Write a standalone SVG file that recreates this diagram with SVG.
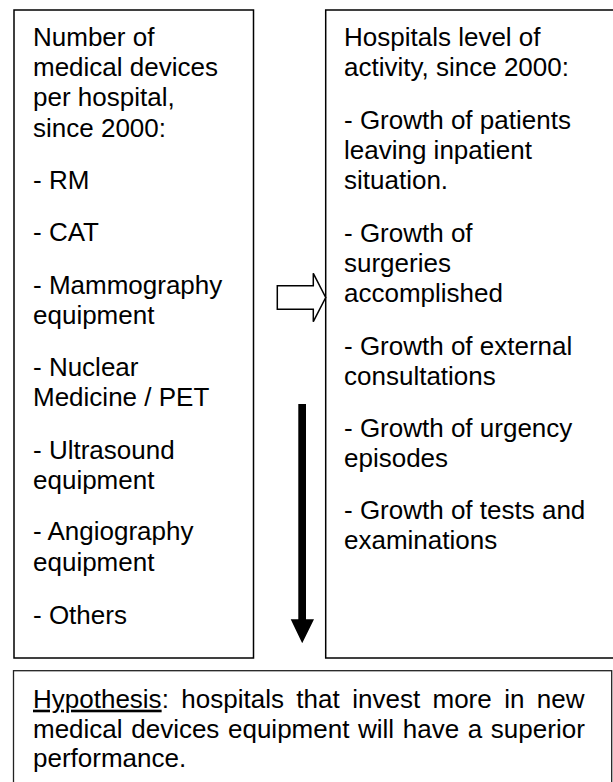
<svg xmlns="http://www.w3.org/2000/svg" width="613" height="782" viewBox="0 0 613 782">
  <style>
    .box { fill: #ffffff; stroke: #000000; stroke-width: 1.5; }
    .hyp { fill: #ffffff; stroke: #222222; stroke-width: 1.3; }
    .t { font-family: "Liberation Sans", Arial, Helvetica, sans-serif; font-size: 26px; fill: #000000; }
  </style>
  <rect x="0" y="0" width="613" height="782" fill="#ffffff"/>

  <g id="devices">
    <rect class="box" x="14" y="10" width="239.5" height="648"/>
    <text class="t">
      <tspan x="33" y="45.7">Number of</tspan>
      <tspan x="33" y="76">medical devices</tspan>
      <tspan x="33" y="106.4">per hospital,</tspan>
      <tspan x="33" y="136.6">since 2000:</tspan>
      <tspan x="33" y="189">- RM</tspan>
      <tspan x="33" y="241">- CAT</tspan>
      <tspan x="33" y="293.5">- Mammography</tspan>
      <tspan x="33" y="323.6">equipment</tspan>
      <tspan x="33" y="376.2">- Nuclear</tspan>
      <tspan x="33" y="406.4">Medicine / PET</tspan>
      <tspan x="33" y="458.8">- Ultrasound</tspan>
      <tspan x="33" y="489">equipment</tspan>
      <tspan x="33" y="540">- Angiography</tspan>
      <tspan x="33" y="571">equipment</tspan>
      <tspan x="33" y="623.5">- Others</tspan>
    </text>
  </g>

  <g id="activity">
    <rect class="box" x="325.7" y="10" width="300" height="648"/>
    <text class="t">
      <tspan x="344" y="45.7">Hospitals level of</tspan>
      <tspan x="344" y="76">activity, since 2000:</tspan>
      <tspan x="344" y="128.8">- Growth of patients</tspan>
      <tspan x="344" y="159">leaving inpatient</tspan>
      <tspan x="344" y="189.2">situation.</tspan>
      <tspan x="344" y="241.6">- Growth of</tspan>
      <tspan x="344" y="271.8">surgeries</tspan>
      <tspan x="344" y="302.2">accomplished</tspan>
      <tspan x="344" y="354.8">- Growth of external</tspan>
      <tspan x="344" y="385">consultations</tspan>
      <tspan x="344" y="436.6">- Growth of urgency</tspan>
      <tspan x="344" y="467.2">episodes</tspan>
      <tspan x="344" y="518.6">- Growth of tests and</tspan>
      <tspan x="344" y="548.8">examinations</tspan>
    </text>
  </g>

  <g id="hypothesis">
    <rect class="hyp" x="13.5" y="670.7" width="598.2" height="130"/>
    <text class="t" y="707.7"><tspan x="33" text-decoration="underline">Hypothesis</tspan><tspan>:</tspan><tspan x="181.3">hospitals</tspan><tspan x="296.3">that</tspan><tspan x="352.2">invest</tspan><tspan x="432.5">more</tspan><tspan x="504.2">in</tspan><tspan x="536.8">new</tspan></text>
    <text class="t" x="33" y="737.5" word-spacing="1.4">medical devices equipment will have a superior</text>
    <text class="t" x="33" y="767.4">performance.</text>
  </g>

  <g id="connectors">
    <polygon points="277.3,285.7 313.3,285.7 313.3,273.3 325.7,297.5 313.3,321.7 313.3,309.3 277.3,309.3" fill="#ffffff" stroke="#000000" stroke-width="1.5" stroke-linejoin="miter"/>
    <path d="M298.3,404 H306 V619.3 H314 L302.2,643.3 L290.7,619.3 H298.3 Z" fill="#000000"/>
  </g>
</svg>
